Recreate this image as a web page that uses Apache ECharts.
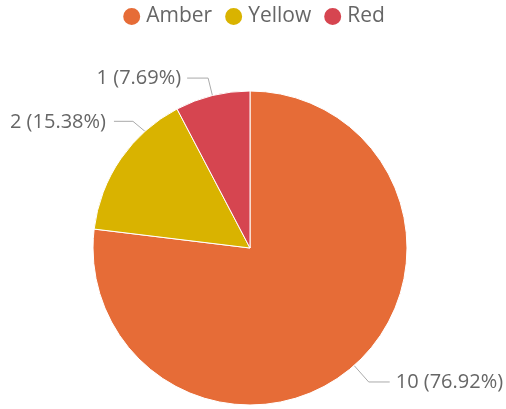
<!DOCTYPE html>
<html>
<head>
<meta charset="utf-8">
<script src="https://cdn.jsdelivr.net/npm/echarts@6/dist/echarts.min.js"></script>
<style>
  html, body { margin: 0; padding: 0; background: #fff; }
  #chart { width: 506px; height: 409px; }
</style>
</head>
<body>
<div id="chart"></div>
<script>
const CATEGORIES = ["Amber", "Yellow", "Red"];
const COUNTS = [10, 2, 1];
const COLORS = ["#E66C37", "#D9B300", "#D64550"];

const CENTER = [250, 248];
const RADIUS = 157;
const total = COUNTS.reduce((a, b) => a + b, 0);
const chart = echarts.init(document.getElementById("chart"));

// the Yellow label sits higher than the slice midpoint, as in the original
function yellowLayout(p) {
  if (p.dataIndex !== 1) return {};
  const ang = (132 * Math.PI) / 180;
  const a = [CENTER[0] + RADIUS * Math.cos(ang), CENTER[1] - RADIUS * Math.sin(ang)];
  const b = [a[0] - 12, a[1] - 10];
  const c = [b[0] - 19, b[1]];
  return {
    x: c[0] - 8,
    y: c[1] + 1,
    align: "right",
    verticalAlign: "middle",
    labelLinePoints: [a, b, c],
  };
}

const option = {
  animation: false,
  color: COLORS,
  legend: {
    top: 1,
    left: "center",
    icon: "circle",
    itemWidth: 19,
    itemHeight: 19,
    itemGap: 11,
    textStyle: { color: "#666", fontSize: 21, fontFamily: "Open Sans" },
    data: CATEGORIES,
  },
  series: [
    {
      type: "pie",
      center: CENTER,
      radius: RADIUS,
      startAngle: 90,
      clockwise: true,
      itemStyle: { borderColor: "#fff", borderWidth: 1 },
      label: {
        formatter: (p) => `${p.value} (${((p.value / total) * 100).toFixed(2)}%)`,
        color: "#666",
        fontSize: 20,
        fontFamily: "Open Sans",
        overflow: "none",
        distanceToLabelLine: 6,
      },
      labelLine: {
        length: 18,
        length2: 21,
        lineStyle: { color: "#aaa", width: 1 },
      },
      labelLayout: yellowLayout,
      data: CATEGORIES.map((name, i) => ({
        name,
        value: COUNTS[i],
        labelLine: i === 0 ? { length: 22 } : undefined,
      })),
    },
  ],
};

chart.setOption(option);
</script>
</body>
</html>
